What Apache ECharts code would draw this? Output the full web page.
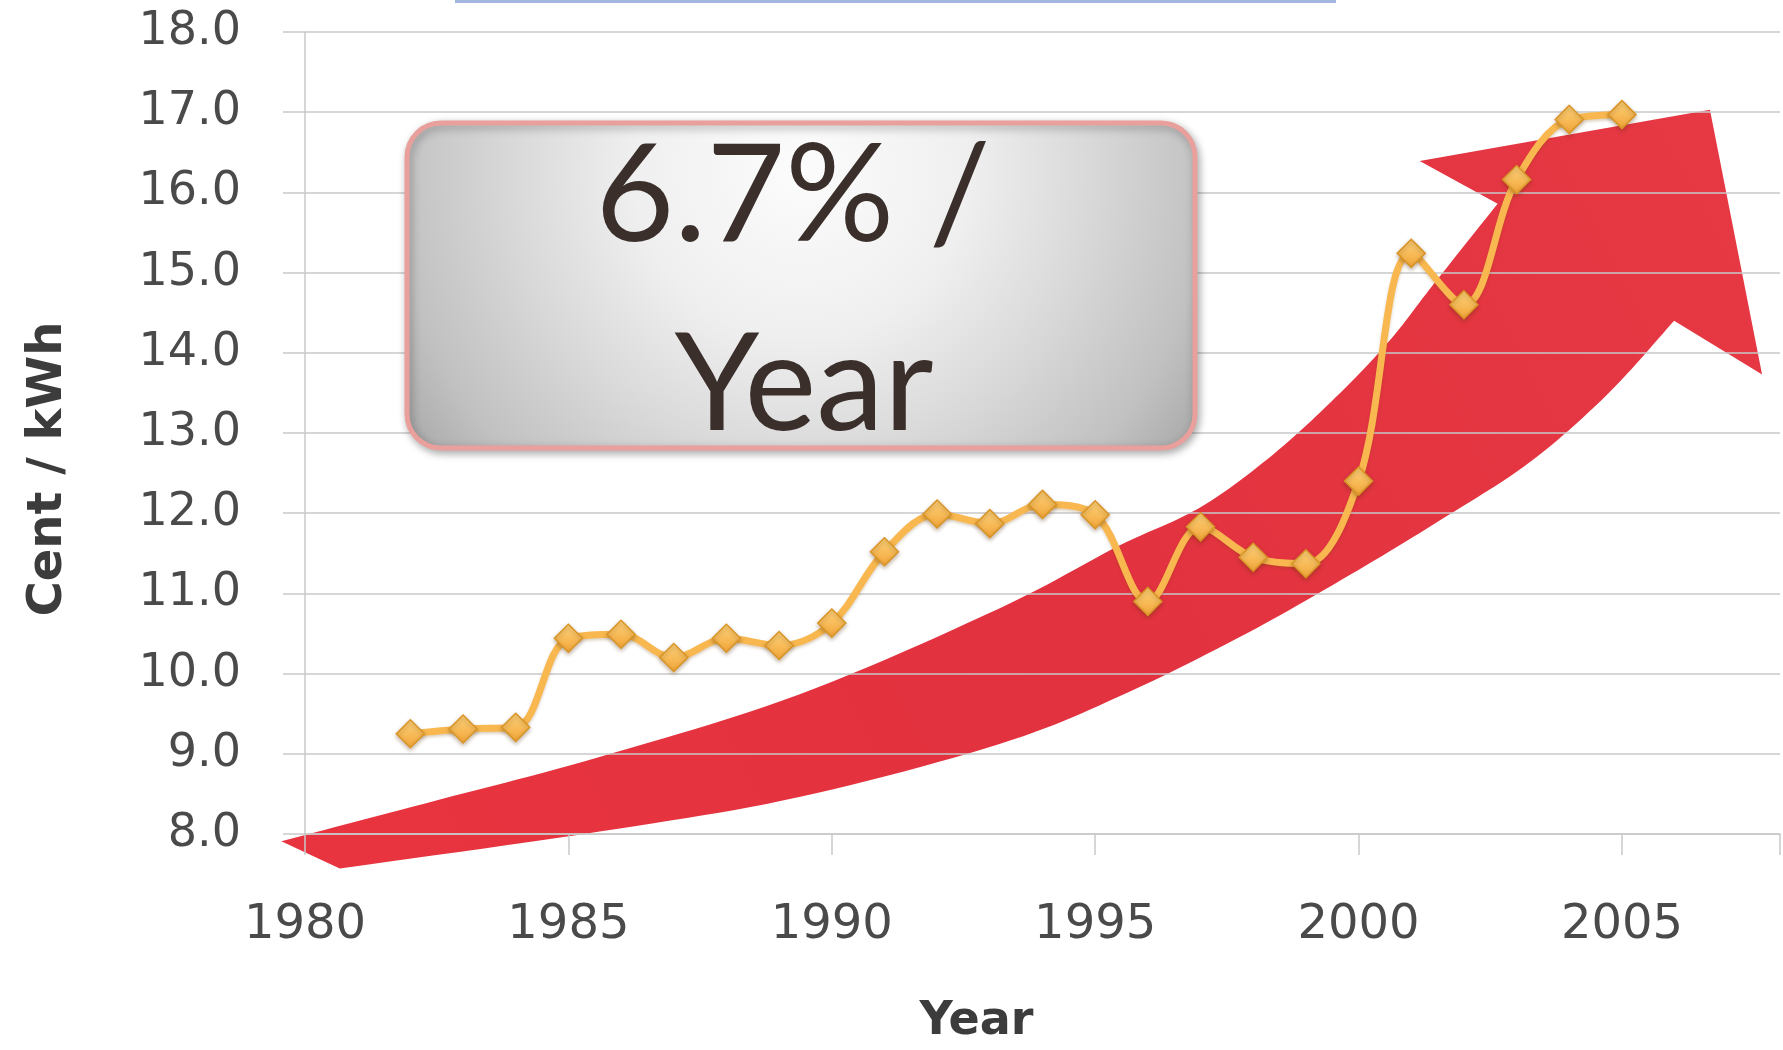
<!DOCTYPE html>
<html>
<head>
<meta charset="utf-8">
<script src="https://cdn.jsdelivr.net/npm/echarts@6/dist/echarts.min.js"></script>
<style>
  html, body { margin: 0; padding: 0; background: #fff; }
  #chart { width: 1783px; height: 1050px; }
</style>
</head>
<body>
<div id="chart"></div>
<script>
// values
const years = [1982, 1983, 1984, 1985, 1986, 1987, 1988, 1989, 1990, 1991, 1992, 1993,
  1994, 1995, 1996, 1997, 1998, 1999, 2000, 2001, 2002, 2003, 2004, 2005]
const centPerKwh = [9.25, 9.31, 9.33, 10.44, 10.49, 10.20, 10.44, 10.35, 10.63, 11.52, 11.99, 11.87,
  12.11, 11.98, 10.90, 11.83, 11.45, 11.37, 12.40, 15.24, 14.60, 16.16, 16.91, 16.97]
const yearTicks = [1980, 1985, 1990, 1995, 2000, 2005]
const boxLines = ['6.7% /', 'Year']

// outline of the red trend arrow, in (year, cent) units
const arrowUpper = [[1979.55, 7.91], [1982.56, 8.43], [1985.59, 8.96], [1989.38, 9.74], [1993.17, 10.81],
  [1995.44, 11.59], [1996.96, 12.06], [1998.28, 12.68], [1999.48, 13.39], [2000.56, 14.13],
  [2001.37, 14.81], [2002.64, 15.86]]
const arrowHead = [[2001.16, 16.39], [2006.67, 17.03], [2007.66, 13.73], [2005.99, 14.40]]
const arrowLower = [[2005.99, 14.40], [2004.72, 13.48], [2003.26, 12.64], [2001.69, 11.97], [1999.99, 11.29],
  [1997.90, 10.51], [1995.44, 9.71], [1993.17, 9.12], [1989.38, 8.46], [1985.59, 8.03], [1980.66, 7.57]]

const gridColor = '#c9c9c9'
const labelColor = '#4a4a4a'

let chart = echarts.init(document.getElementById('chart'))

let option = {
  animation: false,
  grid: {
    left: 305,
    right: 0,
    top: 32,
    bottom: 209
  },
  xAxis: {
    type: 'value',
    min: 1980,
    max: 2008,
    interval: 5,
    name: 'Year',
    nameLocation: 'middle',
    nameGap: 165,
    nameTextStyle: {
      fontFamily: 'DejaVu Sans',
      fontWeight: 'bold',
      fontSize: 46,
      color: '#3c3c3c',
      padding: [0, 132, 0, 0]
    },
    axisLine: { lineStyle: { color: gridColor, width: 1.5 } },
    axisTick: { length: 21, lineStyle: { color: gridColor, width: 1.5 } },
    splitLine: { show: false },
    axisLabel: {
      margin: 68,
      fontFamily: 'DejaVu Sans',
      fontSize: 48,
      color: labelColor,
      formatter: v => (yearTicks.indexOf(v) >= 0 ? String(v) : '')
    }
  },
  yAxis: {
    type: 'value',
    min: 8,
    max: 18,
    interval: 1,
    name: 'Cent / kWh',
    nameLocation: 'middle',
    nameGap: 232,
    nameTextStyle: {
      fontFamily: 'DejaVu Sans',
      fontWeight: 'bold',
      fontSize: 48,
      color: '#3c3c3c',
      padding: [0, 72, 0, 0]
    },
    axisLine: { show: true, lineStyle: { color: gridColor, width: 1.5 } },
    axisTick: { show: true, length: 22, lineStyle: { color: gridColor, width: 1.5 } },
    splitLine: { lineStyle: { color: gridColor, width: 1.5 } },
    axisLabel: {
      margin: 64,
      fontFamily: 'DejaVu Sans',
      fontSize: 46,
      color: labelColor,
      formatter: v => v.toFixed(1)
    }
  },
  series: [
    {
      type: 'line',
      z: 5,
      data: years.map((y, i) => [y, centPerKwh[i]]),
      smooth: 0.35,
      symbol: 'diamond',
      symbolSize: 28,
      lineStyle: {
        color: '#f8b84f',
        width: 7,
        shadowColor: 'rgba(120,70,0,0.25)',
        shadowBlur: 3,
        shadowOffsetY: 2
      },
      itemStyle: {
        color: new echarts.graphic.LinearGradient(0, 0, 0, 1, [
          { offset: 0, color: '#fdd47e' },
          { offset: 1, color: '#f2a436' }
        ]),
        borderColor: '#d99526',
        borderWidth: 1.5,
        shadowColor: 'rgba(90,50,0,0.35)',
        shadowBlur: 4,
        shadowOffsetY: 2
      }
    }
  ]
}

chart.setOption(option)

// Catmull-Rom through the outline points, in pixels
function spline (pts, steps) {
  let out = []
  for (let i = 0; i < pts.length - 1; i++) {
    let p0 = pts[i - 1] || pts[i]
    let p1 = pts[i]
    let p2 = pts[i + 1]
    let p3 = pts[i + 2] || pts[i + 1]
    for (let k = 0; k < steps; k++) {
      let t = k / steps
      let t2 = t * t
      let t3 = t2 * t
      out.push([0, 1].map(j => 0.5 * (2 * p1[j] + (p2[j] - p0[j]) * t +
        (2 * p0[j] - 5 * p1[j] + 4 * p2[j] - p3[j]) * t2 +
        (3 * p1[j] - p0[j] - 3 * p2[j] + p3[j]) * t3)))
    }
  }
  out.push(pts[pts.length - 1])
  return out
}

const toPx = p => chart.convertToPixel({ gridIndex: 0 }, p)
let arrowPoints = spline(arrowUpper.map(toPx), 12)
  .concat(arrowHead.slice(0, 3).map(toPx))
  .concat(spline(arrowLower.map(toPx), 12))

chart.setOption({
  graphic: [
    {
      type: 'rect',
      left: 455,
      top: 0,
      z: 1,
      shape: { width: 881, height: 3 },
      style: { fill: '#a3b6e0' }
    },
    {
      type: 'polygon',
      z: -1,
      shape: { points: arrowPoints },
      style: {
        fill: new echarts.graphic.LinearGradient(0, 1, 1, 0, [
          { offset: 0, color: '#e8343f' },
          { offset: 0.5, color: '#e2323f' },
          { offset: 1, color: '#e63944' }
        ])
      }
    },
    {
      type: 'rect',
      z: 10,
      shape: { x: 407, y: 123, width: 788, height: 325, r: 34 },
      style: {
        fill: new echarts.graphic.RadialGradient(0.5, 0.15, 1.45, [
          { offset: 0, color: '#fcfcfc' },
          { offset: 0.35, color: '#efefef' },
          { offset: 0.6, color: '#d9d9d9' },
          { offset: 0.85, color: '#c1c1c1' },
          { offset: 1, color: '#a9a9a9' }
        ]),
        stroke: '#e9a09c',
        lineWidth: 5,
        shadowColor: 'rgba(0,0,0,0.3)',
        shadowBlur: 8,
        shadowOffsetX: 2,
        shadowOffsetY: 3
      }
    },
    {
      type: 'text',
      z: 11,
      x: 793,
      y: 197,
      style: {
        text: boxLines[0],
        fontFamily: 'Lato',
        fontSize: 136,
        fill: '#3a2f2b',
        align: 'center',
        verticalAlign: 'middle'
      }
    },
    {
      type: 'text',
      z: 11,
      x: 804,
      y: 386,
      style: {
        text: boxLines[1],
        fontFamily: 'Lato',
        fontSize: 136,
        fill: '#3a2f2b',
        align: 'center',
        verticalAlign: 'middle'
      }
    }
  ]
})
</script>
</body>
</html>
